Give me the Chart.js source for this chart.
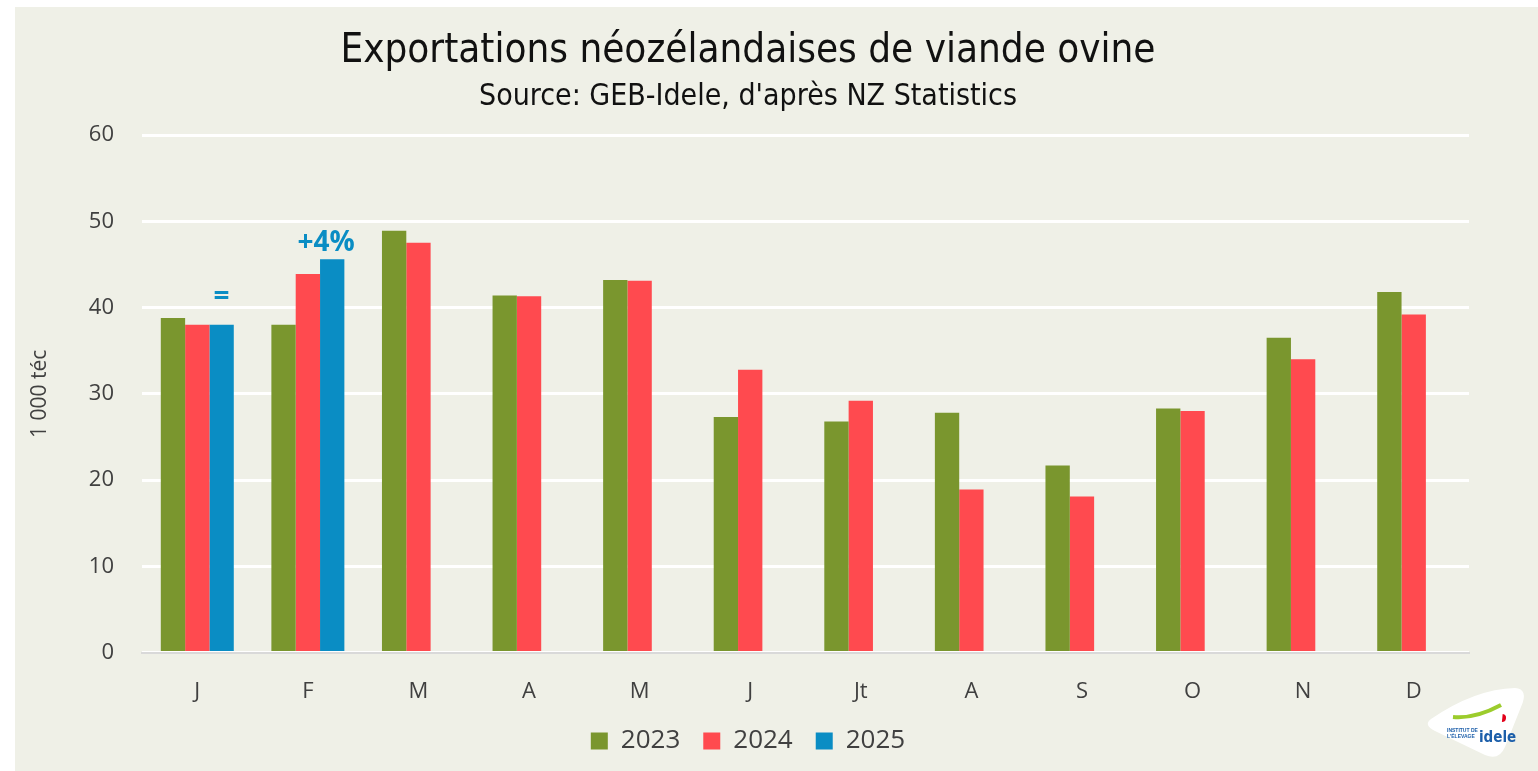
<!DOCTYPE html>
<html>
<head>
<meta charset="utf-8">
<script src="https://cdn.jsdelivr.net/npm/chart.js@4/dist/chart.umd.min.js"></script>
<style>
  body { margin: 0; background: #ffffff; }
  #wrap { position: absolute; left: 15px; top: 7px; width: 1523px; height: 764px; background: #eff0e7; }
</style>
</head>
<body>
<div id="wrap"><canvas id="graphics"></canvas></div>
<script>
const months = ['J', 'F', 'M', 'A', 'M', 'J', 'Jt', 'A', 'S', 'O', 'N', 'D'];
const exports2023 = [38.8, 38.0, 48.9, 41.4, 43.2, 27.3, 26.8, 27.8, 21.7, 28.3, 36.5, 41.8];
const exports2024 = [38.0, 43.9, 47.5, 41.3, 43.1, 32.8, 29.2, 18.9, 18.1, 28.0, 34.0, 39.2];
const exports2025 = [38.0, 45.6, null, null, null, null, null, null, null, null, null, null];
const changes2025 = ['=', '+4%'];

const textColor = '#404040';
const bodyFont = "'Open Sans', 'Noto Sans', sans-serif";
const narrowFont = "'Liberation Sans Narrow', 'DejaVu Sans Condensed', sans-serif";

// "=" / "+4%" labels over the 2025 bars
const changeLabels = {
  id: 'changeLabels',
  afterDatasetsDraw(chart) {
    const ctx = chart.ctx;
    const meta = chart.getDatasetMeta(2);
    ctx.save();
    ctx.fillStyle = '#0a8dc4';
    ctx.font = "bold 28px 'Open Sans', sans-serif";
    ctx.textAlign = 'center';
    ctx.textBaseline = 'alphabetic';
    changes2025.forEach((txt, i) => {
      const bar = meta.data[i];
      if (!bar || !txt) return;
      const lift = txt === '=' ? 20 : 8;
      ctx.fillText(txt, bar.x - (txt === '=' ? 0 : 6), bar.y - lift);
    });
    ctx.restore();
  }
};

// little institute badge, bottom right
const badge = {
  id: 'badge',
  afterDraw(chart) {
    const ctx = chart.ctx;
    ctx.save();
    ctx.fillStyle = '#ffffff';
    ctx.beginPath();
    ctx.moveTo(1416, 712);
    ctx.quadraticCurveTo(1460, 682, 1500, 681);
    ctx.quadraticCurveTo(1514, 682, 1506, 700);
    ctx.lineTo(1490, 740);
    ctx.quadraticCurveTo(1484, 754, 1470, 748);
    ctx.lineTo(1420, 724);
    ctx.quadraticCurveTo(1408, 718, 1416, 712);
    ctx.fill();
    ctx.strokeStyle = '#9ccc2c';
    ctx.lineWidth = 4;
    ctx.beginPath();
    ctx.moveTo(1438, 710);
    ctx.quadraticCurveTo(1460, 712, 1486, 698);
    ctx.stroke();
    ctx.fillStyle = '#e2001a';
    ctx.beginPath();
    ctx.arc(1487, 711, 4, -1.4, 1.6);
    ctx.fill();
    ctx.fillStyle = '#1d5faa';
    ctx.font = "bold 15px 'DejaVu Sans Condensed', sans-serif";
    ctx.textAlign = 'left';
    ctx.fillText('idele', 1464, 731);
    ctx.font = "bold 5px sans-serif";
    ctx.fillText('INSTITUT DE', 1432, 724);
    ctx.fillText("L'ÉLEVAGE", 1432, 730);
    ctx.restore();
  }
};

const chart = new Chart(document.getElementById('graphics').getContext('2d'), {
  type: 'bar',
  data: {
    labels: months,
    datasets: [
      { label: '2023', data: exports2023, backgroundColor: '#7a962e' },
      { label: '2024', data: exports2024, backgroundColor: '#ff4a4f' },
      { label: '2025', data: exports2025, backgroundColor: '#0a8dc4' }
    ]
  },
  options: {
    responsive: true,
    maintainAspectRatio: false,
    animation: false,
    layout: { padding: { left: 12, right: 69, top: 0, bottom: 7 } },
    datasets: { bar: { categoryPercentage: 0.66, barPercentage: 1.0 } },
    plugins: {
      title: {
        display: true,
        text: 'Exportations néozélandaises de viande ovine',
        color: '#111111',
        font: { family: narrowFont, size: 40, weight: 'normal' },
        padding: { top: 21, bottom: 3 }
      },
      subtitle: {
        display: true,
        text: "Source: GEB-Idele, d'après NZ Statistics",
        color: '#111111',
        font: { family: narrowFont, size: 30, weight: 'normal' },
        padding: { bottom: 20 }
      },
      legend: {
        position: 'bottom',
        labels: {
          color: textColor,
          font: { family: bodyFont, size: 26 },
          boxWidth: 17,
          boxHeight: 17,
          padding: 23
        }
      },
      tooltip: { enabled: false }
    },
    scales: {
      x: {
        grid: { display: false },
        border: { color: '#d9d9d9', width: 2 },
        ticks: { color: textColor, font: { family: bodyFont, size: 22 }, padding: 18 },
        afterFit(scale) { scale.height -= 18; }
      },
      y: {
        min: 0,
        max: 60,
        ticks: { stepSize: 10, color: textColor, font: { family: bodyFont, size: 22 }, padding: 28 },
        grid: { color: '#ffffff', lineWidth: 3, drawTicks: false },
        border: { display: false },
        title: {
          display: true,
          text: '1 000 téc',
          color: textColor,
          font: { family: bodyFont, size: 21 },
          padding: 0
        },
        afterFit(scale) { scale.width = 115; }
      }
    }
  },
  plugins: [changeLabels, badge]
});
</script>
</body>
</html>
